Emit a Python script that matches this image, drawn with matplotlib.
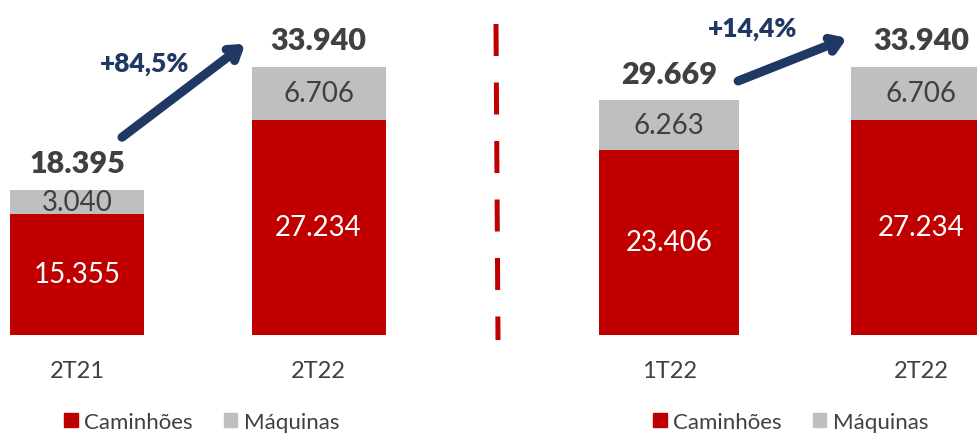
import matplotlib.pyplot as plt
from matplotlib.lines import Line2D
from matplotlib.patches import Patch

plt.rcParams['font.family'] = ['Lato', 'DejaVu Sans']

# data
left_cats = ['2T21', '2T22']
left_trucks = [15355, 27234]
left_machines = [3040, 6706]
left_growth = '+84,5%'

right_cats = ['1T22', '2T22']
right_trucks = [23406, 27234]
right_machines = [6263, 6706]
right_growth = '+14,4%'

series_names = ['Caminhões', 'Máquinas']

RED = '#C00000'
GRAY = '#BFBFBF'
TXT = '#404040'
NAVY = '#1F3864'

W, H = 978, 435
fig = plt.figure(figsize=(W / 100, H / 100), dpi=100)


def fmt(v):
    return f'{v:,}'.replace(',', '.')


def panel(rect, xlim, cats, trucks, machines, growth, arrow, label_xy, legend_x):
    ax = fig.add_axes(rect)
    x = list(range(len(cats)))
    totals = [t + m for t, m in zip(trucks, machines)]
    ax.bar(x, trucks, width=0.555, color=RED)
    ax.bar(x, machines, bottom=trucks, width=0.555, color=GRAY)
    for i in x:
        ax.text(i, trucks[i] / 2, fmt(trucks[i]), ha='center', va='center',
                color='white', fontsize=20)
        ax.text(i, trucks[i] + machines[i] / 2, fmt(machines[i]), ha='center',
                va='center', color=TXT, fontsize=20)
        ax.annotate(fmt(totals[i]), (i, totals[i]), xytext=(0, 19),
                    textcoords='offset points', ha='center', va='center',
                    color=TXT, fontsize=22, fontweight='heavy')
    ax.set_xlim(*xlim)
    ax.set_ylim(0, 42500)
    ax.set_xticks(x, cats)
    ax.tick_params(axis='x', length=0, pad=18, labelsize=17, labelcolor=TXT)
    ax.set_yticks([])
    for s in ax.spines.values():
        s.set_visible(False)

    # growth arrow, placed relative to the bar totals
    (tx, ty), (hx, hy) = arrow
    ax.annotate('', xy=(hx, totals[1] + hy), xytext=(tx, totals[0] + ty),
                arrowprops=dict(arrowstyle='->,head_length=0.75,head_width=0.5',
                                color=NAVY, lw=6.5, shrinkA=0, shrinkB=0))
    ax.text(label_xy[0], totals[1] + label_xy[1], growth, ha='center', va='center',
            color=NAVY, fontsize=19, fontweight='heavy')

    handles = [Patch(color=RED), Patch(color=GRAY)]
    ax.legend(handles, series_names, loc='center', ncol=2, frameon=False,
              bbox_to_anchor=(legend_x / W, 12 / H), bbox_transform=fig.transFigure,
              fontsize=16, labelcolor=TXT, handlelength=0.6, handleheight=0.6,
              handletextpad=0.3, columnspacing=1.4)
    return ax


panel([0, 99 / H, 400 / W, 336 / H], (-0.319, 1.337), left_cats, left_trucks,
      left_machines, left_growth, ((0.186, 6620), (0.696, 2890)), (0.28, 500), 202)
panel([560 / W, 99 / H, 418 / W, 336 / H], (-0.433, 1.226), right_cats, right_trucks,
      right_machines, right_growth, ((0.274, 2460), (0.706, 3630)), (0.333, 4900), 791)

# dashed separator
fig.add_artist(Line2D([496 / W, 498 / W], [1 - 25 / H, 1 - 341 / H], color=RED,
                      lw=3.6, dashes=(6.4, 5.3), solid_capstyle='butt',
                      dash_capstyle='butt'))

fig.savefig('out.png', dpi=100)
